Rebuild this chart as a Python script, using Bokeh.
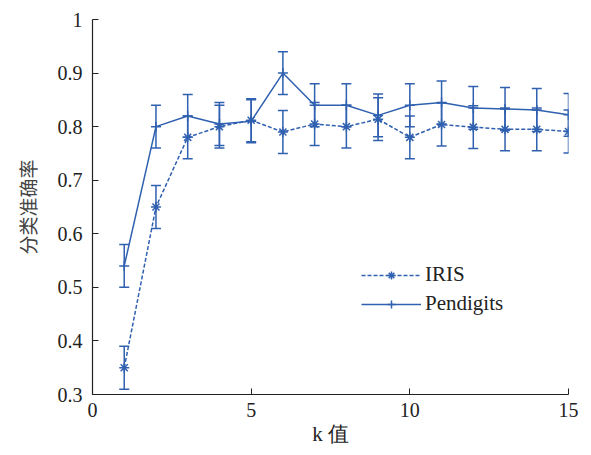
from bokeh.plotting import figure
from bokeh.models import ColumnDataSource, Whisker, TeeHead, Legend, LegendItem, FixedTicker, Range1d
from bokeh.embed import file_html
from bokeh.resources import INLINE

k = [1, 2, 3, 4, 5, 6, 7, 8, 9, 10, 11, 12, 13, 14, 15]
iris = [0.35, 0.65, 0.78, 0.80, 0.812, 0.79, 0.805, 0.80, 0.814, 0.78, 0.804, 0.799, 0.795, 0.795, 0.791]
iris_err = [0.04, 0.04, 0.04, 0.04, 0.04, 0.04, 0.04, 0.04, 0.04, 0.04, 0.04, 0.04, 0.04, 0.04, 0.04]
pend = [0.54, 0.80, 0.82, 0.805, 0.81, 0.90, 0.84, 0.84, 0.821, 0.84, 0.845, 0.835, 0.833, 0.831, 0.822]
pend_err = [0.04, 0.04, 0.04, 0.04, 0.04, 0.04, 0.04, 0.04, 0.04, 0.04, 0.04, 0.04, 0.04, 0.04, 0.04]
x_ticks = [0, 5, 10, 15]
y_ticks = [0.3, 0.4, 0.5, 0.6, 0.7, 0.8, 0.9, 1.0]
y_tick_labels = ["0.3", "0.4", "0.5", "0.6", "0.7", "0.8", "0.9", "1"]
series_names = ["IRIS", "Pendigits"]

COLOR = "#3060b0"
SERIF = "Liberation Serif"

p = figure(width=591, height=455, output_backend="svg", toolbar_location=None,
           x_range=Range1d(0, 15), y_range=Range1d(0.3, 1.0),
           min_border_left=92, min_border_right=23, min_border_top=19, min_border_bottom=61)
p.outline_line_color = None
p.grid.visible = False
p.background_fill_color = "white"
p.border_fill_color = "white"

for ax in (p.xaxis[0], p.yaxis[0]):
    ax.axis_line_color = "#222222"
    ax.axis_line_width = 1.2
    ax.major_tick_in = 6
    ax.major_tick_out = 0
    ax.minor_tick_in = 0
    ax.minor_tick_out = 0
    ax.major_tick_line_color = "#222222"
    ax.major_label_text_font = SERIF
    ax.major_label_text_font_size = "20px"
    ax.major_label_text_color = "#222222"

p.xaxis.ticker = FixedTicker(ticks=x_ticks)
p.yaxis.ticker = FixedTicker(ticks=y_ticks)
p.yaxis.major_label_overrides = {t: l for t, l in zip(y_ticks, y_tick_labels)}
p.xaxis.major_label_standoff = 8
p.yaxis.major_label_standoff = 10

p.xaxis.axis_label = "k 值"
p.xaxis.axis_label_text_font = SERIF
p.xaxis.axis_label_text_font_style = "normal"
p.xaxis.axis_label_text_font_size = "21px"
p.xaxis.axis_label_text_color = "#222222"
p.xaxis.axis_label_standoff = 2

p.yaxis.axis_label = "分类准确率"
p.yaxis.axis_label_text_font = "Noto Sans CJK SC"
p.yaxis.axis_label_text_font_style = "normal"
p.yaxis.axis_label_text_font_size = "19px"
p.yaxis.axis_label_text_color = "#444444"
p.yaxis.axis_label_standoff = 14

src_i = ColumnDataSource(dict(x=k, y=iris,
                              lo=[v - e for v, e in zip(iris, iris_err)],
                              hi=[v + e for v, e in zip(iris, iris_err)]))
src_p = ColumnDataSource(dict(x=k, y=pend,
                              lo=[v - e for v, e in zip(pend, pend_err)],
                              hi=[v + e for v, e in zip(pend, pend_err)]))

for src in (src_i, src_p):
    w = Whisker(source=src, base="x", upper="hi", lower="lo",
                line_color=COLOR, line_width=1.5,
                upper_head=TeeHead(size=10, line_color=COLOR, line_width=1.5),
                lower_head=TeeHead(size=10, line_color=COLOR, line_width=1.5))
    p.add_layout(w)

li = p.line("x", "y", source=src_i, line_color=COLOR, line_width=1.5, line_dash="4 2")
si = p.scatter("x", "y", source=src_i, marker="asterisk", size=10, line_color=COLOR, line_width=1.5)
lp = p.line("x", "y", source=src_p, line_color=COLOR, line_width=1.5)
sp = p.scatter("x", "y", source=src_p, marker="cross", size=10, line_color=COLOR, line_width=1.5)

legend = Legend(items=[LegendItem(label=series_names[0], renderers=[li, si]),
                       LegendItem(label=series_names[1], renderers=[lp, sp])],
                location=(269, 78), border_line_color=None, background_fill_alpha=0,
                label_text_font=SERIF, label_text_font_size="21px", label_text_color="#222222",
                glyph_width=60, glyph_height=20, spacing=4, padding=4, label_standoff=4)
p.add_layout(legend)

open("out.html", "w").write(file_html(p, INLINE))
